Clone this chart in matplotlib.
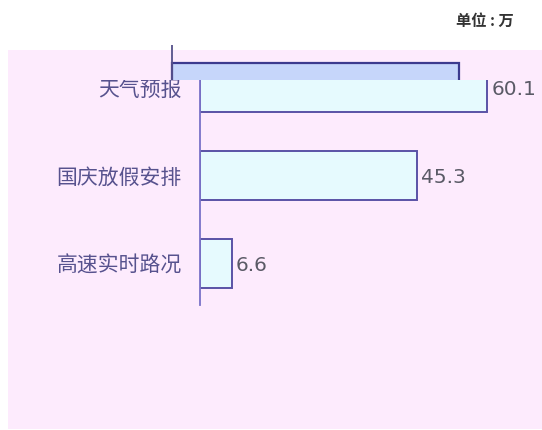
import matplotlib
matplotlib.use("Agg")
import matplotlib.pyplot as plt
from matplotlib.patches import Rectangle

categories = ["天气预报", "国庆放假安排", "高速实时路况"]
values = [60.1, 45.3, 6.6]
unit_text = "单位 : 万"

plt.rcParams["font.family"] = ["Noto Sans CJK SC", "DejaVu Sans"]

W, H = 542, 430
fig = plt.figure(figsize=(W / 100, H / 100), dpi=100)
fig.patch.set_facecolor("white")

pink = "#fdebfd"
bar_fill = "#e6fafe"
bar_edge = "#5a52a6"
label_col = "#57528e"
px_per_unit = 4.78

# pink panel
fig.patches.append(Rectangle((8 / W, 1 - 429 / H), (W - 8) / W, 379 / H,
                             transform=fig.transFigure, facecolor=pink,
                             edgecolor="none", zorder=-1))

# main chart
ax = fig.add_axes([200 / W, 1 - 305 / H, (W - 200) / W, 240 / H])
ax.patch.set_alpha(0)
y = list(range(len(categories)))
ax.barh(y, values, height=0.557, color=bar_fill, edgecolor=bar_edge, linewidth=1.4)
ax.set_xlim(0, (W - 200) / px_per_unit)
ax.set_ylim(2.472, 2.472 - 240 / 88)
ax.set_yticks(y)
ax.set_yticklabels(categories, fontsize=15, color=label_col)
ax.tick_params(axis="y", length=0, pad=13)
ax.set_xticks([])
for s in ["top", "right", "bottom"]:
    ax.spines[s].set_visible(False)
ax.spines["left"].set_color("#7a72c8")
ax.spines["left"].set_linewidth(1.3)
for yi, v in zip(y, values):
    ax.text(v + 0.9, yi + 0.02, f"{v}", va="center", ha="left", fontsize=14.5,
            color="#5a5a66", family="DejaVu Sans")

# leftover strip of an earlier frame at the top
fig.patches.append(Rectangle((8 / W, 1 - 80 / H), (W - 8) / W, 30 / H,
                             transform=fig.transFigure, facecolor=pink,
                             edgecolor="none", zorder=1))
gx = fig.add_axes([8 / W, 1 - 80 / H, (W - 8) / W, 35 / H], zorder=2)
gx.patch.set_alpha(0)
gx.barh([-30], values[:1], height=94, color="#c6d6fa", edgecolor="#3c3a8e",
        linewidth=1.6, clip_on=True)
gx.set_xlim(-(172 - 8) / px_per_unit, (W - 172) / px_per_unit)
gx.set_ylim(0, 35)
gx.axvline(0, color="#55508a", linewidth=1.3)
gx.axis("off")

fig.text(514 / W, 1 - 21 / H, unit_text, ha="right", va="center",
         fontsize=11, fontweight="bold", color="#333333")

fig.savefig("out.png", dpi=100)
